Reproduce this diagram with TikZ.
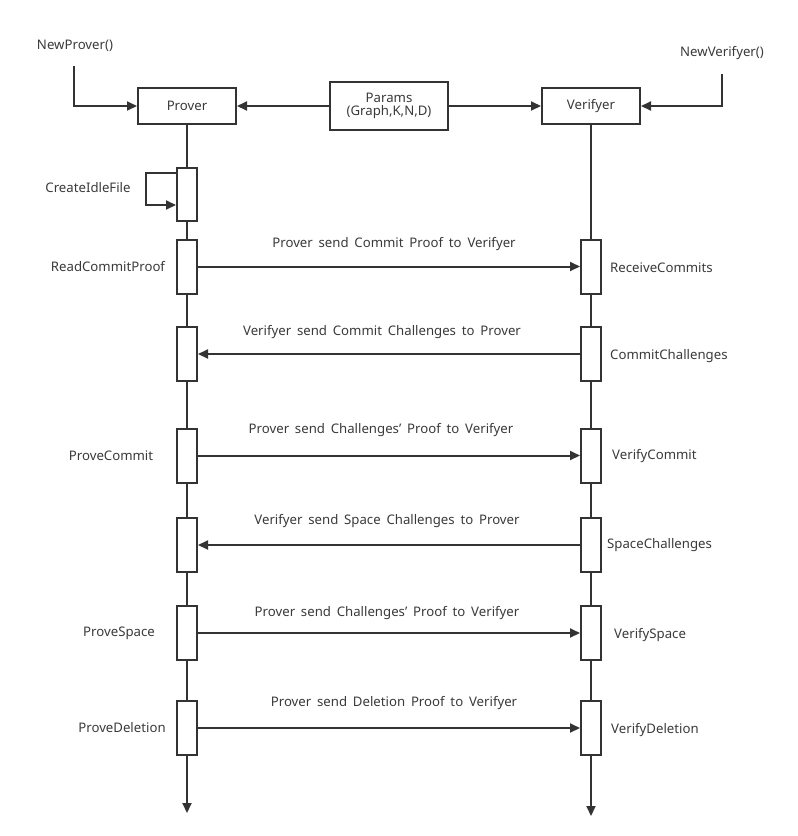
\documentclass[tikz,border=0pt]{standalone}
\usepackage{fontspec}
\setmainfont{Noto Sans}
\newfontfamily\msgfont[WordSpace=1.3,Ligatures=TeX]{Noto Sans}
\usetikzlibrary{arrows.meta,calc}
\definecolor{ink}{HTML}{333333}
\definecolor{txt}{HTML}{3A3A3A}
\tikzset{
  box/.style={draw=ink,line width=2pt,fill=white,minimum width=98pt,minimum height=36pt,inner sep=0pt,align=center,text=txt,font=\fontsize{13.2}{15}\selectfont},
  act/.style={draw=ink,line width=2pt,fill=white,minimum width=20pt,minimum height=54pt,inner sep=0pt},
  lbl/.style={text=txt,inner sep=0pt,font=\fontsize{13.2}{15}\selectfont},
  mlbl/.style={text=txt,inner sep=0pt,font=\msgfont\fontsize{13.2}{15}\selectfont},
  ln/.style={draw=ink,line width=2pt},
  arr/.style={ln,-{Triangle[length=10pt,width=9pt]}},
}
\begin{document}
\begin{tikzpicture}[x=1pt,y=-1pt]
\useasboundingbox (0,0) rectangle (798,836);
% heads
\node[box] (prover) at (187,106) {Prover};
\node[box,minimum width=118pt,minimum height=48pt] (params) at (389,106) {Params\\[-2pt](Graph,K,N,D)};
\node[box] (verifyer) at (591,106) {Verifyer};
\node[lbl] (newp) at (75,46) {NewProver()};
\node[lbl] (newv) at (722,53) {NewVerifyer()};
\coordinate (np) at (74,66);
\coordinate (nv) at (722,74);
\draw[arr] (np) |- (prover.west);
\draw[arr] (nv) |- (verifyer.east);
\draw[arr] (params.west) -- (prover.east);
\draw[arr] (params.east) -- (verifyer.west);
% lifelines
\coordinate (pend) at (187,813);
\coordinate (vend) at (591,816);
\draw[arr] (prover.south) -- (pend);
\draw[arr] (verifyer.south) -- (vend);
% prover activations
\node[act,minimum height=53pt] (p1) at (187,194.5) {};
\node[act] (p2) at (187,266.5) {};
\node[act] (p3) at (187,354) {};
\node[act] (p4) at (187,455.5) {};
\node[act] (p5) at (187,545) {};
\node[act] (p6) at (187,633) {};
\node[act] (p7) at (187,728) {};
% verifyer activations
\node[act] (v2) at (591,266.5) {};
\node[act] (v3) at (591,354) {};
\node[act] (v4) at (591,455.5) {};
\node[act] (v5) at (591,545) {};
\node[act] (v6) at (591,633) {};
\node[act] (v7) at (591,728) {};
% self loop
\draw[arr] ($(p1.north west)+(0,6)$) -- ++(-30,0) |- ($(p1.north west)+(0,38)$);
% messages
\draw[arr] (p2) -- (v2) node[mlbl,midway,yshift=22pt,xshift=5pt] (m2) {Prover send Commit Proof to Verifyer};
\draw[arr] (v3) -- (p3) node[mlbl,midway,yshift=22pt,xshift=-7pt] (m3) {Verifyer send Commit Challenges to Prover};
\draw[arr] (p4) -- (v4) node[mlbl,midway,yshift=25pt,xshift=-8pt] (m4) {Prover send Challenges’ Proof to Verifyer};
\draw[arr] (v5) -- (p5) node[mlbl,midway,yshift=24pt,xshift=-2pt] (m5) {Verifyer send Space Challenges to Prover};
\draw[arr] (p6) -- (v6) node[mlbl,midway,yshift=20pt,xshift=-2pt] (m6) {Prover send Challenges’ Proof to Verifyer};
\draw[arr] (p7) -- (v7) node[mlbl,midway,yshift=25pt,xshift=5pt] (m7) {Prover send Deletion Proof to Verifyer};
% left labels
\node[lbl] (l1) at (88,188) {CreateIdleFile};
\node[lbl] (l2) at (108,267) {ReadCommitProof};
\node[lbl] (l4) at (111,456) {ProveCommit};
\node[lbl] (l6) at (119,633) {ProveSpace};
\node[lbl] (l7) at (122,728) {ProveDeletion};
% right labels
\node[lbl,anchor=west] (r2) at (610,268) {ReceiveCommits};
\node[lbl,anchor=west] (r3) at (610,356) {CommitChallenges};
\node[lbl,anchor=west] (r4) at (612,456) {VerifyCommit};
\node[lbl,anchor=west] (r5) at (607,545) {SpaceChallenges};
\node[lbl,anchor=west] (r6) at (614,635) {VerifySpace};
\node[lbl,anchor=west] (r7) at (611,730) {VerifyDeletion};
\end{tikzpicture}
\end{document}
